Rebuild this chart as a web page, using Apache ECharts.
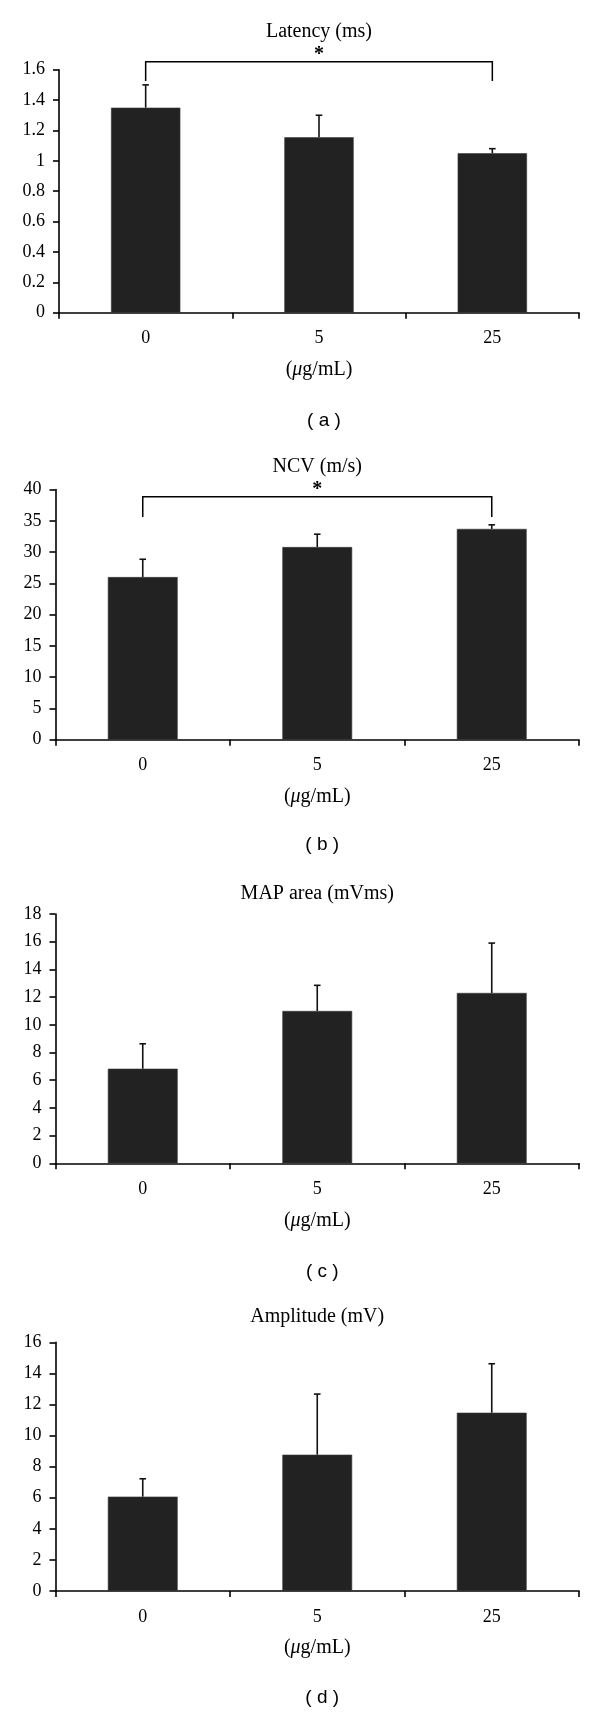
<!DOCTYPE html>
<html>
<head>
<meta charset="utf-8">
<script src="https://cdn.jsdelivr.net/npm/echarts@6/dist/echarts.min.js"></script>
<style>
  html, body { margin: 0; padding: 0; background: #fff; }
  #chart { width: 600px; height: 1713px; }
</style>
</head>
<body>
<div id="chart"></div>
<script>
// ---- data ----
const categories = ['0', '5', '25'];
const unitLabel = '({i|μ}g/mL)';

const latencyMean = [1.35, 1.155, 1.05];
const latencyErr  = [0.15, 0.145, 0.03];
const ncvMean = [26.0, 30.8, 33.7];
const ncvErr  = [2.85, 2.05, 0.65];
const mapMean = [6.83, 11.0, 12.3];
const mapErr  = [1.8, 1.85, 3.6];
const ampMean = [6.07, 8.77, 11.47];
const ampErr  = [1.15, 3.9, 3.15];

const titles = ['Latency (ms)', 'NCV (m/s)', 'MAP area (mVms)', 'Amplitude (mV)'];
const letters = ['( a )', '( b )', '( c )', '( d )'];
const yMax = [1.6, 40, 18, 16];
const yInterval = [0.2, 5, 2, 2];
// significance brackets: [fromIndex, toIndex, legBottomValue, topValue]
const latencyBracket = [[0, 2, 1.526, 1.653]];
const ncvBracket = [[0, 2, 35.6, 38.85]];

// ---- layout ----
const layout = [
  { left: 59,   top: 69.7,   width: 520,   height: 243,   titleY: 32,     letterY: 421 },
  { left: 55.5, top: 489.5,  width: 523.5, height: 250.2, titleY: 466.7,  letterY: 845 },
  { left: 55.5, top: 914,    width: 523.5, height: 249.3, titleY: 893.3,  letterY: 1272 },
  { left: 55.5, top: 1342.3, width: 523.5, height: 248.7, titleY: 1316.7, letterY: 1698 }
];
const means = [latencyMean, ncvMean, mapMean, ampMean];
const errs = [latencyErr, ncvErr, mapErr, ampErr];
const brackets = [latencyBracket, ncvBracket, null, null];

const SERIF = '"Liberation Serif", "Times New Roman", serif';
const SANS = '"Liberation Sans", Arial, sans-serif';

const grids = [], xAxes = [], yAxes = [], series = [], graphics = [];

layout.forEach((L, k) => {
  grids.push({ left: L.left, top: L.top, width: L.width, height: L.height, containLabel: false });
  xAxes.push({
    type: 'category', gridIndex: k, data: categories, boundaryGap: true,
    axisLine: { show: true, lineStyle: { color: '#000', width: 1.6 } },
    axisTick: { show: true, length: 6, lineStyle: { color: '#000', width: 1.6 } },
    axisLabel: { color: '#000', fontFamily: SERIF, fontSize: 18, margin: 17 },
    splitLine: { show: false },
    name: unitLabel, nameLocation: 'middle', nameGap: 47,
    nameTextStyle: {
      color: '#000', fontFamily: SERIF, fontSize: 20,
      rich: { i: { fontStyle: 'italic', fontFamily: SERIF, fontSize: 20, color: '#000' } }
    }
  });
  yAxes.push({
    type: 'value', gridIndex: k, min: 0, max: yMax[k], interval: yInterval[k],
    axisLine: { show: true, lineStyle: { color: '#000', width: 1.6 } },
    axisTick: { show: true, length: 6, lineStyle: { color: '#000', width: 1.6 } },
    axisLabel: { color: '#000', fontFamily: SERIF, fontSize: 18, margin: 14,
      formatter: v => String(+v.toFixed(2)) },
    splitLine: { show: false }
  });
  series.push({
    type: 'bar', xAxisIndex: k, yAxisIndex: k, data: means[k], barWidth: '40%',
    itemStyle: { color: '#222222', borderColor: '#3a3a3a', borderWidth: 0.6 },
    silent: true
  });
  series.push({
    type: 'custom', xAxisIndex: k, yAxisIndex: k, clip: false, silent: true, z: 5,
    data: means[k].map((m, i) => [i, m, errs[k][i]]),
    encode: { x: 0, y: 1 },
    renderItem: (params, api) => {
      const x = api.value(0), m = api.value(1), e = api.value(2);
      const p0 = api.coord([x, m]);
      const p1 = api.coord([x, m + e]);
      const half = 3.3;
      const st = { stroke: '#111', lineWidth: 1.6 };
      return { type: 'group', children: [
        { type: 'line', shape: { x1: p0[0], y1: p0[1], x2: p1[0], y2: p1[1] }, style: st },
        { type: 'line', shape: { x1: p1[0] - half, y1: p1[1], x2: p1[0] + half, y2: p1[1] }, style: st }
      ]};
    }
  });
  if (brackets[k]) {
    series.push({
      type: 'custom', xAxisIndex: k, yAxisIndex: k, clip: false, silent: true, z: 5,
      data: brackets[k],
      encode: { x: [0, 1], y: [2, 3] },
      renderItem: (params, api) => {
        const a = api.value(0), b = api.value(1), leg = api.value(2), top = api.value(3);
        const pA = api.coord([a, leg]), pB = api.coord([a, top]);
        const pC = api.coord([b, top]), pD = api.coord([b, leg]);
        return { type: 'group', children: [
          { type: 'polyline', shape: { points: [pA, pB, pC, pD] },
            style: { stroke: '#000', lineWidth: 1.5, fill: null } },
          { type: 'text', x: (pB[0] + pC[0]) / 2, y: pB[1] - 7,
            style: { text: '*', font: 'bold 20px ' + SERIF, fill: '#000',
              align: 'center', verticalAlign: 'middle' } }
        ]};
      }
    });
  }
  const cx = L.left + L.width / 2;
  graphics.push({ type: 'text', x: cx, y: L.titleY, silent: true,
    style: { text: titles[k], font: '20px ' + SERIF, fill: '#000', align: 'center', verticalAlign: 'middle' } });
  graphics.push({ type: 'text', x: cx + 5, y: L.letterY, silent: true,
    style: { text: letters[k], font: '19px ' + SANS, fill: '#000', align: 'center', verticalAlign: 'middle' } });
});

const chart = echarts.init(document.getElementById('chart'), null, { renderer: 'canvas' });
chart.setOption({
  animation: false,
  backgroundColor: '#ffffff',
  grid: grids,
  xAxis: xAxes,
  yAxis: yAxes,
  series: series,
  graphic: graphics
});
</script>
</body>
</html>
